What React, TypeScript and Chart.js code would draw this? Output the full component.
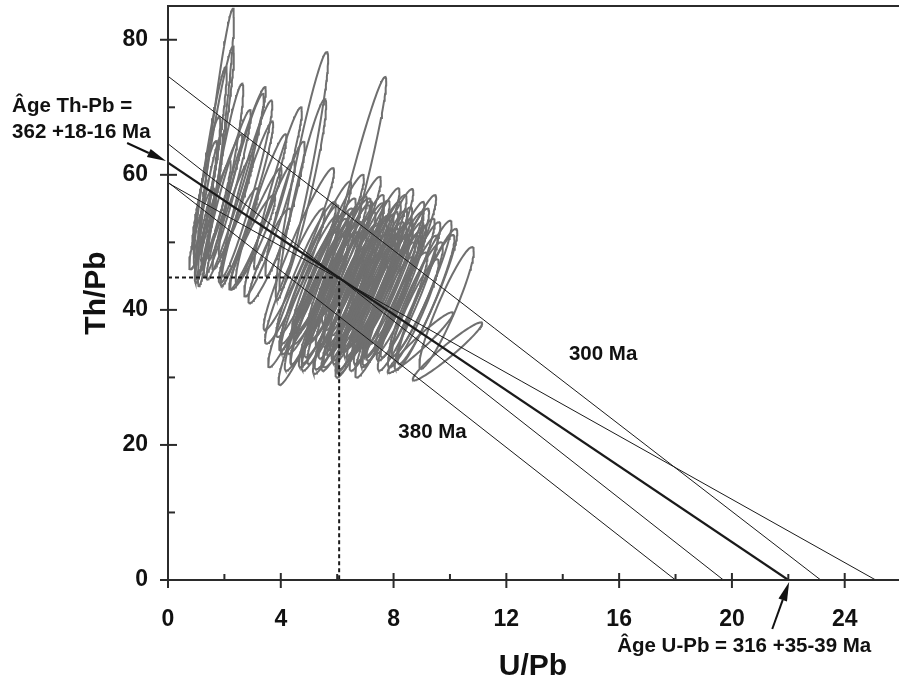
import React, { useEffect, useRef } from "react";
import { Chart, registerables } from "chart.js";

Chart.register(...registerables);

const FONT = '"Liberation Sans", Arial, Helvetica, sans-serif';

// Axis ticks
const xTicks = [0, 4, 8, 12, 16, 20, 24];
const xMinorTicks = [2, 6, 10, 14, 18, 22];
const yTicks = [0, 20, 40, 60, 80];
const yMinorTicks = [10, 30, 50, 70];
const xMax = 25.89;
const yMax = 85;

// Error ellipses: U/Pb centre, Th/Pb centre, sigma U/Pb, sigma Th/Pb, correlation
const ellU = [
  1.70, 1.65, 1.50, 1.38, 1.30, 2.42, 2.10, 2.80, 1.90, 1.60, 2.30, 3.10, 1.45, 2.05,
  2.80, 3.30, 3.60, 3.00, 2.60, 3.90, 1.20, 2.50,
  4.75, 6.60, 4.78, 4.15,
  5.25, 5.70, 6.30, 6.96, 7.45, 7.84, 9.00, 9.10, 9.88, 4.80, 5.60, 5.17, 5.99, 7.23, 8.26, 4.64, 3.60,
  6.0, 6.5, 7.0, 7.5, 8.0, 6.8, 5.5, 6.2, 7.7, 8.5, 5.0, 6.6, 7.2, 8.2, 4.5, 5.8, 9.2, 7.3, 6.3, 5.4,
  5.6, 6.1, 6.6, 7.1, 7.6, 8.1, 5.9, 6.4, 6.9, 7.4, 7.9, 8.4, 5.3, 6.7, 7.1, 6.0, 6.8, 7.6, 8.6, 5.7,
  6.4, 7.0, 7.8, 8.7, 6.9, 6.1, 5.2, 4.9, 7.4, 8.0,
  5.9, 6.5, 7.2, 7.9, 8.8, 5.4, 6.2, 7.0, 7.7, 6.7, 5.0, 8.3,
  8.95, 9.91,
];
const ellTh = [
  64.05, 61.75, 61.25, 58.3, 57.0, 58.75, 57.3, 55.7, 56.5, 53.5, 54.5, 52.0, 55.0, 60.5,
  58.0, 55.0, 52.0, 50.0, 60.0, 58.0, 52.0, 51.0,
  59.85, 56.25, 57.1, 54.95,
  47.0, 48.0, 47.7, 46.0, 45.9, 44.0, 43.2, 41.1, 40.3, 43.5, 43.8, 40.9, 44.1, 42.8, 45.0, 49.0, 48.0,
  42, 41, 40, 41, 43, 44, 45, 40.5, 40, 41, 44, 47, 46, 45, 45, 41, 42, 43, 44.5, 42,
  46.5, 45.5, 45.8, 44.5, 43.5, 42.5, 43, 42.8, 42, 42.5, 41.5, 43.5, 43.5, 43.2, 41.2, 46.8, 46.2, 45.2, 43, 41.5,
  39.5, 40.8, 39.8, 39.5, 38.5, 39.2, 41, 46, 47, 44.5,
  44.0, 43.5, 43.0, 42.0, 41.5, 45.5, 47.5, 45.0, 44.0, 40.5, 42.5, 40.5,
  35.15, 33.85,
];
const ellSU = [
  0.64, 0.69, 0.585, 0.474, 0.44, 1.05, 0.84, 0.93, 0.73, 0.63, 0.73, 0.93, 0.50, 0.62,
  0.90, 0.90, 0.90, 0.80, 0.80, 0.85, 0.45, 0.70,
  0.93, 1.14, 0.83, 0.70,
  1.25, 1.25, 1.25, 1.25, 1.25, 1.25, 1.06, 1.06, 0.966, 1.25, 1.25, 1.25, 1.25, 1.25, 1.25, 1.25, 0.75,
  1.06, 1.06, 1.06, 1.06, 1.06, 1.06, 1.06, 1.06, 1.06, 1.06, 1.06, 1.06, 1.06, 1.06, 1.06, 1.06, 1.06, 1.06, 1.06, 1.06,
  1.06, 1.06, 1.06, 1.06, 1.06, 1.06, 1.06, 1.06, 1.06, 1.06, 1.06, 1.06, 1.06, 1.06, 1.06, 1.06, 1.06, 1.06, 1.06, 1.06,
  0.90, 1.06, 0.90, 0.90, 0.90, 0.90, 1.06, 1.06, 1.06, 1.06,
  1.0, 1.0, 1.0, 1.0, 0.95, 1.0, 1.0, 1.0, 1.0, 0.9, 1.0, 0.9,
  1.16, 1.23,
];
const ellSTh = [
  20.55, 17.25, 14.75, 10.3, 8.0, 14.25, 12.3, 12.2, 9.5, 8.5, 8.5, 9.0, 11.0, 13.0,
  13.0, 11.0, 10.0, 7.0, 12.0, 12.0, 6.0, 7.0,
  18.35, 18.25, 14.1, 9.95,
  12, 12, 12, 12, 12, 12, 10, 10, 9, 12, 12, 12, 12, 12, 12, 12, 7,
  10, 10, 10, 10, 10, 10, 10, 10, 10, 10, 10, 10, 10, 10, 10, 10, 10, 10, 10, 10,
  10, 10, 10, 10, 10, 10, 10, 10, 10, 10, 10, 10, 10, 10, 10, 10, 10, 10, 10, 10,
  8, 10, 8, 8, 8, 8, 10, 10, 10, 10,
  9, 9, 9, 9, 8.5, 9, 9, 9, 9, 8, 9, 8,
  4.5, 4.3,
];
const ellRho = [
  0.94, 0.947, 0.94, 0.907, 0.91, 0.971, 0.955, 0.964, 0.954, 0.949, 0.954, 0.964, 0.92, 0.93,
  0.955, 0.955, 0.95, 0.93, 0.95, 0.955, 0.90, 0.93,
  0.946, 0.965, 0.94, 0.93,
  0.96, 0.96, 0.96, 0.96, 0.96, 0.96, 0.944, 0.944, 0.932, 0.96, 0.96, 0.96, 0.96, 0.96, 0.96, 0.96, 0.93,
  0.944, 0.944, 0.944, 0.944, 0.944, 0.944, 0.944, 0.944, 0.944, 0.944, 0.944, 0.944, 0.944, 0.944, 0.944, 0.944, 0.944, 0.944, 0.944, 0.944,
  0.944, 0.944, 0.944, 0.944, 0.944, 0.944, 0.944, 0.944, 0.944, 0.944, 0.944, 0.944, 0.944, 0.944, 0.944, 0.944, 0.944, 0.944, 0.944, 0.944,
  0.93, 0.944, 0.93, 0.93, 0.93, 0.93, 0.944, 0.944, 0.944, 0.944,
  0.92, 0.92, 0.92, 0.92, 0.92, 0.92, 0.92, 0.92, 0.92, 0.92, 0.92, 0.92,
  0.964, 0.963,
];

// Straight lines: Th/Pb intercept (U/Pb = 0) and U/Pb intercept (Th/Pb = 0)
const lineThIntercepts = [74.6, 64.6, 61.8, 58.9, 58.8];
const lineUIntercepts = [23.15, 19.7, 22.0, 18.0, 25.1];
const mainLineIndex = 2;

// Reference point (dotted)
const refU = 6.07;
const refTh = 44.8;

// Annotations (data coordinates)
const labelTexts = ["Âge Th-Pb =", "362 +18-16 Ma", "300 Ma", "380 Ma", "Âge U-Pb = 316 +35-39 Ma"];
const labelU = [-5.53, -5.53, 14.22, 8.17, 15.93];
const labelTh = [69.35, 65.5, 32.58, 20.98, -10.62];

const arrowTailU = [-1.45, 21.43];
const arrowTailTh = [64.71, -7.26];
const arrowTipU = [-0.07, 22.03];
const arrowTipTh = [62.05, -0.3];

function ellipsePoints(i: number) {
  const cx = ellU[i], cy = ellTh[i], sx = ellSU[i], sy = ellSTh[i], r = ellRho[i];
  const s = Math.sqrt(1 - r * r);
  const pts: { x: number; y: number }[] = [];
  const n = 120;
  for (let k = 0; k <= n; k++) {
    const t = (k / n) * Math.PI * 2;
    pts.push({ x: cx + sx * Math.cos(t), y: cy + sy * (r * Math.cos(t) + s * Math.sin(t)) });
  }
  return pts;
}

const decorPlugin = {
  id: "decor",
  afterDraw(chart: any) {
    const { ctx, chartArea } = chart;
    const xs = chart.scales.x;
    const ys = chart.scales.y;
    const x0 = xs.getPixelForValue(0);
    const y0 = ys.getPixelForValue(0);
    ctx.save();
    ctx.strokeStyle = "#2b2b2b";
    ctx.lineWidth = 2;
    ctx.lineCap = "butt";
    const seg = (a: number, b: number, c: number, d: number) => {
      ctx.beginPath();
      ctx.moveTo(a, b);
      ctx.lineTo(c, d);
      ctx.stroke();
    };
    // axes & top frame
    seg(chartArea.left, y0, chartArea.right + 2, y0);
    seg(x0, chartArea.top, x0, chartArea.bottom);
    seg(chartArea.left - 1, chartArea.top, chartArea.right + 2, chartArea.top);
    // ticks
    xTicks.forEach((v) => {
      const p = xs.getPixelForValue(v);
      seg(p, y0 - 7, p, y0 + 8);
    });
    xMinorTicks.forEach((v) => {
      const p = xs.getPixelForValue(v);
      seg(p, y0 - 6, p, y0);
    });
    yTicks.forEach((v) => {
      const p = ys.getPixelForValue(v);
      seg(x0 - 8, p, x0 + 9, p);
    });
    yMinorTicks.forEach((v) => {
      const p = ys.getPixelForValue(v);
      seg(x0, p, x0 + 7, p);
    });

    // labels
    ctx.fillStyle = "#111";
    ctx.font = `bold 20.5px ${FONT}`;
    ctx.textBaseline = "alphabetic";
    ctx.textAlign = "left";
    labelTexts.forEach((t, i) => {
      ctx.fillText(t, xs.getPixelForValue(labelU[i]), ys.getPixelForValue(labelTh[i]));
    });

    // arrows
    ctx.strokeStyle = "#111";
    ctx.lineWidth = 2;
    arrowTipU.forEach((_, i) => {
      const tx = xs.getPixelForValue(arrowTailU[i]);
      const ty = ys.getPixelForValue(arrowTailTh[i]);
      const hx = xs.getPixelForValue(arrowTipU[i]);
      const hy = ys.getPixelForValue(arrowTipTh[i]);
      const ang = Math.atan2(hy - ty, hx - tx);
      const len = 19;
      const hw = 4.5;
      const bx = hx - len * Math.cos(ang);
      const by = hy - len * Math.sin(ang);
      seg(tx, ty, bx, by);
      ctx.beginPath();
      ctx.moveTo(hx, hy);
      ctx.lineTo(bx + hw * Math.sin(ang), by - hw * Math.cos(ang));
      ctx.lineTo(bx - hw * Math.sin(ang), by + hw * Math.cos(ang));
      ctx.closePath();
      ctx.fill();
    });
    ctx.restore();
  },
};

export default function App() {
  const canvasRef = useRef<HTMLCanvasElement | null>(null);

  useEffect(() => {
    if (!canvasRef.current) return;

    const lineSets = lineThIntercepts.map((th, i) => ({
      type: "scatter" as const,
      data: [
        { x: 0, y: th },
        { x: lineUIntercepts[i], y: 0 },
      ],
      showLine: true,
      borderColor: "#1a1a1a",
      borderWidth: i === mainLineIndex ? 2.2 : 1,
      pointRadius: 0,
      fill: false,
      order: 0,
    }));

    const dashSet = {
      type: "scatter" as const,
      data: [
        { x: 0, y: refTh },
        { x: refU, y: refTh },
        { x: refU, y: 0 },
      ],
      showLine: true,
      borderColor: "#1a1a1a",
      borderWidth: 2,
      borderDash: [4, 3],
      pointRadius: 0,
      fill: false,
      order: 0,
    };

    const ellSets = ellU.map((_, i) => ({
      type: "scatter" as const,
      data: ellipsePoints(i),
      showLine: true,
      borderColor: "#6f6f6f",
      borderWidth: 2,
      pointRadius: 0,
      fill: false,
      tension: 0,
      order: 1,
    }));

    const chart = new Chart(canvasRef.current, {
      type: "scatter",
      data: { datasets: [...lineSets, dashSet, ...ellSets] as any },
      options: {
        animation: false,
        responsive: false,
        maintainAspectRatio: false,
        events: [],
        layout: { padding: { top: 6, right: 1, left: 0, bottom: 0 } },
        plugins: { legend: { display: false }, tooltip: { enabled: false } },
        scales: {
          x: {
            type: "linear",
            position: "bottom",
            min: 0,
            max: xMax,
            afterBuildTicks: (s: any) => {
              s.ticks = xTicks.map((v) => ({ value: v }));
            },
            afterFit: (s: any) => {
              s.height = 102;
              s.paddingLeft = 0;
              s.paddingRight = 0;
              s.paddingTop = 0;
              s.paddingBottom = 0;
            },
            grid: { display: false, drawTicks: false },
            border: { display: false },
            ticks: {
              autoSkip: false,
              maxRotation: 0,
              padding: 26,
              color: "#111",
              font: { family: FONT, size: 23, weight: "bold" },
            },
            title: {
              display: true,
              text: "U/Pb",
              color: "#111",
              font: { family: FONT, size: 30, weight: "bold", lineHeight: 1 },
              padding: { top: 0, bottom: 0 },
            },
          },
          y: {
            type: "linear",
            position: "left",
            min: 0,
            max: yMax,
            afterBuildTicks: (s: any) => {
              s.ticks = yTicks.map((v) => ({ value: v }));
            },
            afterFit: (s: any) => {
              s.width = 168;
              s.paddingLeft = 0;
              s.paddingRight = 0;
              s.paddingTop = 0;
              s.paddingBottom = 0;
            },
            grid: { display: false, drawTicks: false },
            border: { display: false },
            ticks: {
              autoSkip: false,
              padding: 20,
              color: "#111",
              font: { family: FONT, size: 23, weight: "bold" },
            },
            title: {
              display: true,
              text: "Th/Pb",
              color: "#111",
              font: { family: FONT, size: 30, weight: "bold", lineHeight: 1 },
              padding: { top: 82, bottom: 0 },
            },
          },
        },
      },
      plugins: [decorPlugin],
    });

    return () => chart.destroy();
  }, []);

  return (
    <div style={{ position: "fixed", left: 0, top: 0, width: 899, height: 682, background: "#fff" }}>
      <canvas ref={canvasRef} width={899} height={682} style={{ width: 899, height: 682, display: "block" }} />
    </div>
  );
}
